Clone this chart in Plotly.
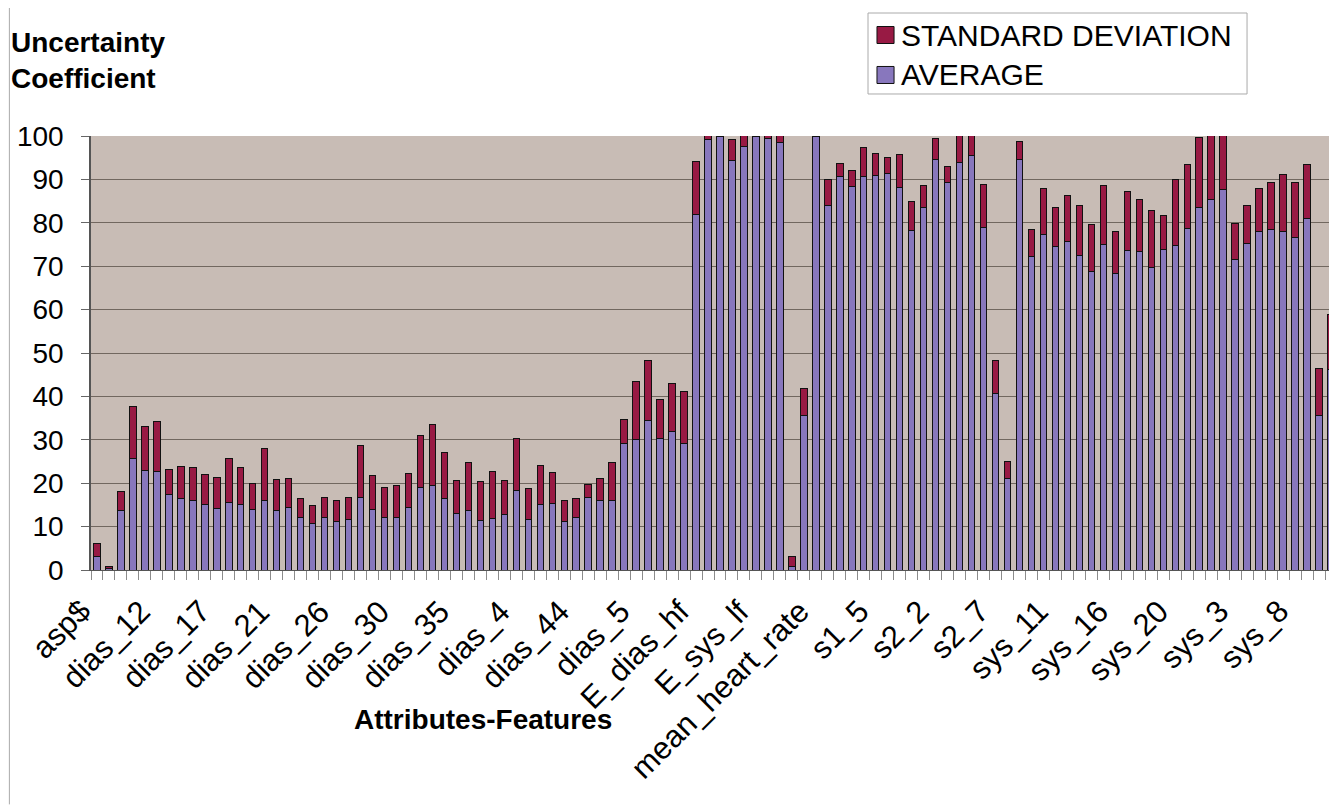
import plotly.graph_objects as go

# attribute names, alphabetical as in the source chart (only every 5th is labelled)
features = [
    "asp$", "dias_1", "dias_10", "dias_11", "bmi",
    "dias_12", "dias_13", "dias_14", "dias_15", "dias_16",
    "dias_17", "dias_18", "dias_19", "dias_2", "dias_20",
    "dias_21", "dias_22", "dias_23", "dias_24", "dias_25",
    "dias_26", "dias_27", "dias_28", "dias_29", "dias_3",
    "dias_30", "dias_31", "dias_32", "dias_33", "dias_34",
    "dias_35", "dias_36", "dias_37", "dias_38", "dias_39",
    "dias_4", "dias_40", "dias_41", "dias_42", "dias_43",
    "dias_44", "dias_45", "dias_46", "dias_47", "dias_48",
    "dias_5", "dias_6", "dias_7", "dias_8", "dias_9",
    "E_dias_hf", "E_dias_lf", "E_dias_lfhf", "E_dias_tot", "E_sys_hf",
    "E_sys_lf", "E_sys_lfhf", "E_sys_tot", "gender", "hr_var",
    "mean_heart_rate", "s1_1", "s1_2", "s1_3", "s1_4",
    "s1_5", "s1_6", "s1_7", "s1_8", "s2_1",
    "s2_2", "s2_3", "s2_4", "s2_5", "s2_6",
    "s2_7", "s2_8", "s2_9", "sys_1", "sys_10",
    "sys_11", "sys_12", "sys_13", "sys_14", "sys_15",
    "sys_16", "sys_17", "sys_18", "sys_19", "sys_2",
    "sys_20", "sys_21", "sys_22", "sys_23", "sys_24",
    "sys_3", "sys_4", "sys_5", "sys_6", "sys_7",
    "sys_8", "sys_9", "tot_power", "weight",
]

average = [
    3.1, 0.4, 13.8, 25.7, 23.0, 22.7, 17.4, 16.4, 16.1, 15.2,
    14.1, 15.6, 15.2, 14.0, 16.0, 13.7, 14.4, 12.1, 10.7, 12.1,
    11.1, 11.6, 16.7, 14.0, 12.1, 12.1, 14.4, 19.0, 19.5, 16.4,
    13.1, 13.7, 11.5, 11.8, 12.7, 18.4, 11.7, 15.0, 15.4, 11.1,
    12.1, 16.7, 16.1, 16.1, 29.2, 30.0, 34.4, 30.3, 32.0, 29.2,
    82.0, 99.1, 100.0, 94.3, 97.5, 100.0, 99.5, 98.6, 0.8, 35.6,
    100.0, 83.9, 90.6, 88.3, 90.6, 91.0, 91.4, 88.2, 78.2, 83.6,
    94.5, 89.4, 93.9, 95.6, 79.0, 40.7, 21.1, 94.5, 72.2, 77.4,
    74.5, 75.6, 72.5, 68.8, 75.0, 68.4, 73.7, 73.4, 69.7, 73.9,
    74.8, 78.6, 83.6, 85.3, 87.6, 71.6, 75.2, 77.9, 78.5, 77.9,
    76.6, 80.9, 35.6, 46.2,
]

std_dev = [
    3.0, 0.4, 4.4, 11.9, 10.0, 11.6, 5.8, 7.4, 7.6, 6.9,
    7.1, 10.0, 8.5, 6.0, 12.0, 7.2, 6.6, 4.3, 4.2, 4.7,
    4.9, 5.0, 12.0, 7.7, 6.8, 7.3, 7.9, 12.0, 14.0, 10.6,
    7.6, 11.0, 8.9, 10.9, 7.9, 11.8, 7.0, 9.0, 7.1, 4.9,
    4.4, 3.1, 4.9, 8.6, 5.5, 13.5, 13.8, 9.0, 10.9, 11.9,
    12.2, 2.4, 0.3, 4.9, 4.0, 0.3, 1.0, 2.4, 2.3, 6.3,
    0.3, 6.1, 3.1, 3.7, 6.7, 4.9, 3.7, 7.6, 6.7, 4.9,
    5.0, 3.5, 8.1, 8.4, 9.9, 7.5, 3.9, 4.3, 6.3, 10.5,
    9.1, 10.8, 11.5, 10.8, 13.5, 9.6, 13.6, 12.0, 13.1, 7.7,
    15.2, 14.8, 16.1, 17.7, 18.4, 8.3, 8.8, 10.1, 10.9, 13.3,
    12.8, 12.6, 10.9, 12.7,
]

FONT = "Liberation Sans, Arial, sans-serif"
AVG_COLOR = "#8877bd"
SD_COLOR = "#981a44"
positions = list(range(len(features)))
n_cat = len(features)

fig = go.Figure()
fig.add_trace(go.Bar(
    x=positions, y=average, name="AVERAGE",
    marker=dict(color=AVG_COLOR, line=dict(color="#111111", width=1)),
    customdata=features, hovertemplate="%{customdata}: %{y}<extra>AVERAGE</extra>",
))
fig.add_trace(go.Bar(
    x=positions, y=std_dev, name="STANDARD DEVIATION",
    marker=dict(color=SD_COLOR, line=dict(color="#111111", width=1)),
    customdata=features, hovertemplate="%{customdata}: %{y}<extra>SD</extra>",
))

# the page body adds an 8px margin, so the figure is 8px smaller on each axis
fig.update_layout(
    width=1329, height=797,
    barmode="stack", bargap=0.46,
    paper_bgcolor="white", plot_bgcolor="#c8bcb5",
    margin=dict(l=83, r=0, t=128, b=235, autoexpand=False),
    font=dict(family=FONT, color="black"),
    showlegend=False,
)

# tick marks on the category boundaries, labels added separately below
fig.update_xaxes(
    range=[-0.5, n_cat - 0.5],
    tickmode="linear", tick0=-0.5, dtick=1,
    showticklabels=False, ticks="outside", ticklen=9,
    tickcolor="#8c8c8c", tickwidth=1,
    showgrid=False, showline=True, linecolor="#555555", linewidth=1,
    zeroline=False, automargin=False,
)
fig.update_yaxes(
    range=[0, 100], dtick=10,
    tickfont=dict(size=28, family=FONT),
    ticks="outside", ticklen=8, tickcolor="#666666", ticklabelstandoff=12,
    showgrid=True, gridcolor="#71675f", gridwidth=1.3,
    showline=True, linecolor="#555555", linewidth=1.5,
    zeroline=False, automargin=False,
)

# rotated category labels (every 5th), anchored just left of the bar like the original
for p in positions[::5]:
    fig.add_annotation(
        text=features[p], xref="paper", yref="paper",
        x=(p + 0.5) / n_cat + 0.0024, y=-0.048,
        xanchor="right", yanchor="top", textangle=-45,
        showarrow=False, font=dict(size=31, family=FONT),
    )

# axis titles as free text, placed like the original
fig.add_annotation(
    text="<b>Uncertainty<br>Coefficient</b>", xref="paper", yref="paper",
    x=-0.066, y=1.255, xanchor="left", yanchor="top", align="left",
    showarrow=False, font=dict(size=28, family=FONT),
)
fig.add_annotation(
    text="<b>Attributes-Features</b>", xref="paper", yref="paper",
    x=0.315, y=-0.345, xanchor="center", yanchor="middle",
    showarrow=False, font=dict(size=28, family=FONT),
)

# legend drawn by hand so the swatches match the original size
fig.add_shape(type="rect", xref="paper", yref="paper",
              x0=0.6236, x1=0.9278, y0=1.0968, y1=1.2834,
              line=dict(color="#aaaaaa", width=1), fillcolor="white")
legend_rows = [("STANDARD DEVIATION", SD_COLOR, 1.2327), ("AVERAGE", AVG_COLOR, 1.1406)]
for label, color, yc in legend_rows:
    fig.add_shape(type="rect", xref="paper", yref="paper",
                  x0=0.6308, x1=0.6445, y0=yc - 0.0196, y1=yc + 0.0196,
                  line=dict(color="#111111", width=1), fillcolor=color)
    fig.add_annotation(text=label, xref="paper", yref="paper",
                       x=0.6485, y=yc, xanchor="left", yanchor="middle",
                       showarrow=False, font=dict(size=30, family=FONT))

# thin frame line at the far left of the original chart area
fig.add_shape(
    type="line", xref="paper", yref="paper",
    x0=-0.0655, x1=-0.0655, y0=-0.54, y1=1.31,
    line=dict(color="#aaaaaa", width=1),
)

fig.write_html("out.html")
